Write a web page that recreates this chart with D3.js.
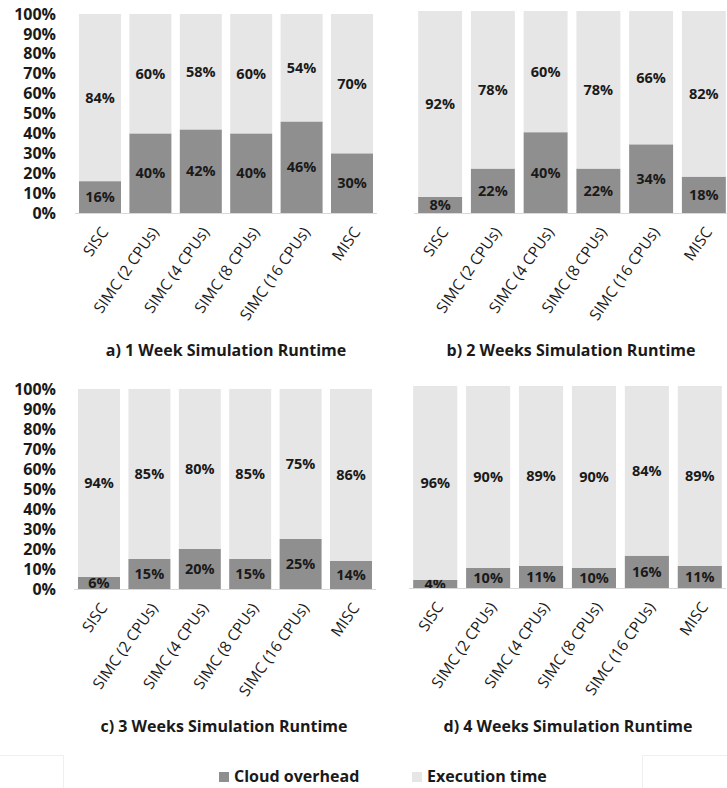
<!DOCTYPE html>
<html>
<head>
<meta charset="utf-8">
<script src="https://cdn.jsdelivr.net/npm/d3@7"></script>
<style>
  html, body { margin: 0; padding: 0; background: #ffffff; }
  svg { display: block; }
  text { font-family: "Open Sans", "DejaVu Sans", sans-serif; fill: #1a1a1a; }
</style>
</head>
<body>
<svg id="chart" width="727" height="788"></svg>
<script>
// Configurations compared in every panel
const categories = ["SISC", "SIMC (2 CPUs)", "SIMC (4 CPUs)", "SIMC (8 CPUs)", "SIMC (16 CPUs)", "MISC"];

// Share of total runtime (%) per configuration
const overhead1Week = [16, 40, 42, 40, 46, 30];
const execution1Week = [84, 60, 58, 60, 54, 70];
const overhead2Weeks = [8, 22, 40, 22, 34, 18];
const execution2Weeks = [92, 78, 60, 78, 66, 82];
const overhead3Weeks = [6, 15, 20, 15, 25, 14];
const execution3Weeks = [94, 85, 80, 85, 75, 86];
const overhead4Weeks = [4, 10, 11, 10, 16, 11];
const execution4Weeks = [96, 90, 89, 90, 84, 89];

const panelTitles = [
  "a) 1 Week Simulation Runtime",
  "b) 2 Weeks Simulation Runtime",
  "c) 3 Weeks Simulation Runtime",
  "d) 4 Weeks Simulation Runtime"
];
const seriesNames = ["Cloud overhead", "Execution time"];
const yTickValues = [0, 10, 20, 30, 40, 50, 60, 70, 80, 90, 100];

const colors = { overhead: "#8f8f8f", execution: "#e6e6e6" };

// Panel placement on the page
const panels = [
  { overhead: overhead1Week, execution: execution1Week, title: panelTitles[0],
    x: [76, 376], y: [213, 14], yAxis: true, titleX: 226, titleY: 356 },
  { overhead: overhead2Weeks, execution: execution2Weeks, title: panelTitles[1],
    x: [415, 729], y: [213, 11], yAxis: false, titleX: 571, titleY: 356 },
  { overhead: overhead3Weeks, execution: execution3Weeks, title: panelTitles[2],
    x: [75, 375], y: [589, 389], yAxis: true, titleX: 224, titleY: 732 },
  { overhead: overhead4Weeks, execution: execution4Weeks, title: panelTitles[3],
    x: [410, 725], y: [588, 386], yAxis: false, titleX: 568, titleY: 732 }
];

const svg = d3.select("#chart");

panels.forEach(p => {
  const g = svg.append("g");
  const x = d3.scaleBand().domain(categories).range(p.x)
    .paddingInner(0.167).paddingOuter(0.06);
  const y = d3.scaleLinear().domain([0, 100]).range(p.y);

  const rows = categories.map((c, i) => ({
    cat: c, overhead: p.overhead[i], execution: p.execution[i]
  }));
  const stacked = d3.stack().keys(["overhead", "execution"])(rows);

  // stacked 100% bars
  const layer = g.selectAll("g.layer").data(stacked).join("g")
    .attr("class", "layer")
    .attr("fill", d => colors[d.key]);
  layer.selectAll("rect").data(d => d).join("rect")
    .attr("x", d => x(d.data.cat))
    .attr("width", x.bandwidth())
    .attr("y", d => y(d[1]))
    .attr("height", d => y(d[0]) - y(d[1]));

  // value labels centred in each segment
  layer.selectAll("text").data(d => d.map(v => ({ v, key: d.key }))).join("text")
    .attr("x", d => x(d.v.data.cat) + x.bandwidth() / 2)
    .attr("y", d => (y(d.v[0]) + y(d.v[1])) / 2)
    .attr("dy", "0.36em")
    .attr("text-anchor", "middle")
    .style("font-size", "14.5px")
    .style("font-weight", "700")
    .text(d => d.v.data[d.key] + "%");

  // baseline
  g.append("line")
    .attr("x1", p.x[0] - 1).attr("x2", p.x[1] + 1)
    .attr("y1", y(0) + 0.5).attr("y2", y(0) + 0.5)
    .attr("stroke", "#d9d9d9").attr("stroke-width", 1);

  // y axis (labels only)
  if (p.yAxis) {
    const ya = g.append("g").attr("transform", "translate(56,0)")
      .call(d3.axisLeft(y).tickValues(yTickValues).tickSize(0).tickPadding(0)
        .tickFormat(d => d + "%"));
    ya.select(".domain").remove();
    ya.selectAll("text")
      .style("font-family", "'Open Sans', sans-serif")
      .style("font-size", "16px")
      .style("font-weight", "700")
      .attr("fill", "#1a1a1a");
  }

  // rotated category labels
  const xa = g.append("g").attr("transform", `translate(0,${y(0)})`)
    .call(d3.axisBottom(x).tickSize(0).tickPadding(0));
  xa.select(".domain").remove();
  xa.selectAll("text")
    .style("font-family", "'Open Sans', sans-serif")
    .style("font-size", "15.5px")
    .attr("fill", "#1a1a1a")
    .attr("text-anchor", "end")
    .attr("dy", null)
    .attr("y", 0)
    .attr("transform", "translate(9,19) rotate(-55)");

  // panel caption
  g.append("text")
    .attr("x", p.titleX).attr("y", p.titleY)
    .attr("text-anchor", "middle")
    .style("font-size", "16px")
    .style("font-weight", "700")
    .text(p.title);
});

// faint frame edges around the legend strip
const frame = svg.append("g").attr("stroke", "#efefef").attr("fill", "none");
frame.append("path").attr("d", "M0,755.5H63.5V788");
frame.append("path").attr("d", "M727,755.5H642.5V788");

// legend
const legend = svg.append("g");
const legendItems = [
  { name: seriesNames[0], color: colors.overhead, sx: 219, tx: 234 },
  { name: seriesNames[1], color: colors.execution, sx: 412, tx: 427 }
];
legendItems.forEach(item => {
  legend.append("rect")
    .attr("x", item.sx).attr("y", 772).attr("width", 10).attr("height", 10)
    .attr("fill", item.color);
  legend.append("text")
    .attr("x", item.tx).attr("y", 782)
    .style("font-size", "16px")
    .style("font-weight", "700")
    .text(item.name);
});
</script>
</body>
</html>
